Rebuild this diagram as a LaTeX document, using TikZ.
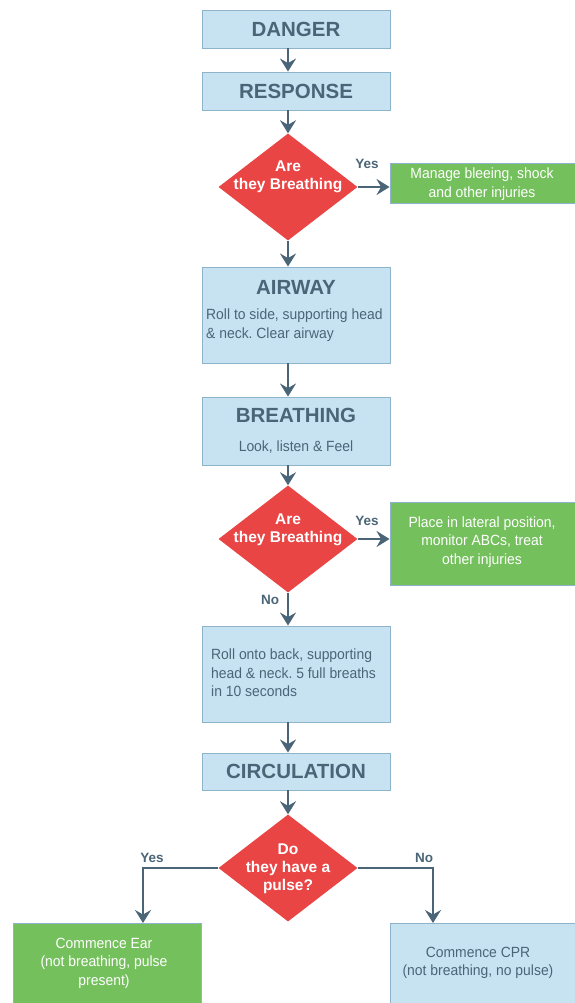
\documentclass[tikz,border=0pt]{standalone}
\usepackage{fontspec}
\setmainfont{Liberation Sans}
\newfontfamily\slimfont{Liberation Sans}[FakeStretch=0.94]
\usetikzlibrary{shapes.geometric,arrows.meta}
\definecolor{boxblue}{HTML}{C7E3F1}
\definecolor{boxline}{HTML}{8DB4CB}
\definecolor{ink}{HTML}{4B6578}
\definecolor{alarm}{HTML}{E94545}
\definecolor{okgreen}{HTML}{74C05C}
\frenchspacing
\begin{document}
\begin{tikzpicture}[x=1pt,y=-1pt,
  bluebox/.style={draw=boxline,fill=boxblue,line width=0.9pt,minimum width=188pt,inner sep=0pt,text=ink},
  greenbox/.style={draw=boxline,fill=okgreen,line width=0.9pt,inner sep=0pt},
  choice/.style={diamond,fill=alarm,minimum width=139pt,minimum height=107pt,inner sep=0pt},
  title/.style={font=\fontsize{20.5}{24}\bfseries\selectfont,text=ink},
  body/.style={font=\slimfont\fontsize{14.8}{18.5}\selectfont,text=ink,inner sep=0pt},
  light/.style={font=\slimfont\fontsize{14.8}{18.5}\selectfont,text=white,inner sep=0pt,align=center},
  ask/.style={font=\fontsize{15.5}{18}\bfseries\selectfont,text=white,align=center,inner sep=0pt},
  lbl/.style={font=\fontsize{13.5}{15}\bfseries\selectfont,text=ink},
  link/.style={draw=ink,line width=2.6pt,-{Stealth[length=13pt,width=16pt,inset=4.5pt]}}]
\useasboundingbox (0,0) rectangle (574,1003);
% main column
\node[bluebox,minimum height=38pt,title] (danger) at (296,29) {DANGER};
\node[bluebox,minimum height=38pt,title] (response) at (296,91) {RESPONSE};
\node[choice] (check1) at (288,187) {};
\node[ask] (check1txt) at (288,177) {Are\\they Breathing};
\node[greenbox,minimum width=190pt,minimum height=40pt] (manage) at (485,183) {};
\node[light] (managetxt) at (482,184) {Manage bleeing, shock\\and other injuries};
\node[bluebox,minimum height=96pt] (airway) at (296,315) {};
\node[title] (airwaytxt) at (296,287) {AIRWAY};
\node[body,anchor=west,align=left] (airwaybody) at (206,325) {Roll to side, supporting head\\\& neck. Clear airway};
\node[bluebox,minimum height=68pt] (breathing) at (296,431) {};
\node[title] (breathingtxt) at (296,415) {BREATHING};
\node[body] (breathingbody) at (296,447) {Look, listen \& Feel};
\node[choice] (check2) at (288,539) {};
\node[ask] (check2txt) at (288,530) {Are\\they Breathing};
\node[greenbox,minimum width=190pt,minimum height=83pt] (place) at (485,543.5) {};
\node[light] (placetxt) at (482,542) {Place in lateral position,\\monitor ABCs, treat\\other injuries};
\node[bluebox,minimum height=96pt] (roll) at (296,674) {};
\node[body,anchor=west,align=left] (rolltxt) at (211,673) {Roll onto back, supporting\\head \& neck. 5 full breaths\\in 10 seconds};
\node[bluebox,minimum height=37pt,title] (circulation) at (296,771.5) {CIRCULATION};
\node[choice] (check3) at (288,868) {};
\node[ask] (check3txt) at (288,869) {Do\\they have a\\pulse?};
% outcomes
\node[greenbox,minimum width=188pt,minimum height=90pt] (ear) at (107,968) {};
\node[light] (eartxt) at (104,963) {Commence Ear\\(not breathing, pulse\\present)};
\node[bluebox,minimum width=192pt,minimum height=90pt] (cpr) at (486,968) {};
\node[light,text=ink] (cprtxt) at (478,963) {Commence CPR\\(not breathing, no pulse)};
\coordinate (yesdrop) at (143,923);
\coordinate (nodrop) at (433,923);
% connectors
\draw[link] (danger.south -| check1.north) -- (response.north -| check1.north);
\draw[link] (response.south -| check1.north) -- (check1.north);
\draw[link] (check1.east) -- (check1.east -| manage.west);
\draw[link] (check1.south) -- (airway.north -| check1.south);
\draw[link] (airway.south -| check2.north) -- (breathing.north -| check2.north);
\draw[link] (breathing.south -| check2.north) -- (check2.north);
\draw[link] (check2.east) -- (check2.east -| place.west);
\draw[link] (check2.south) -- (roll.north -| check2.south);
\draw[link] (roll.south -| check3.north) -- (circulation.north -| check3.north);
\draw[link] (circulation.south -| check3.north) -- (check3.north);
\draw[link] (check3.west) -| (yesdrop);
\draw[link] (check3.east) -| (nodrop);
% branch labels
\node[lbl] (yes1) at (367,164) {Yes};
\node[lbl] (yes2) at (367,521) {Yes};
\node[lbl] (no2) at (270,600) {No};
\node[lbl] (yes3) at (152,858) {Yes};
\node[lbl] (no3) at (424,858) {No};
\end{tikzpicture}
\end{document}
